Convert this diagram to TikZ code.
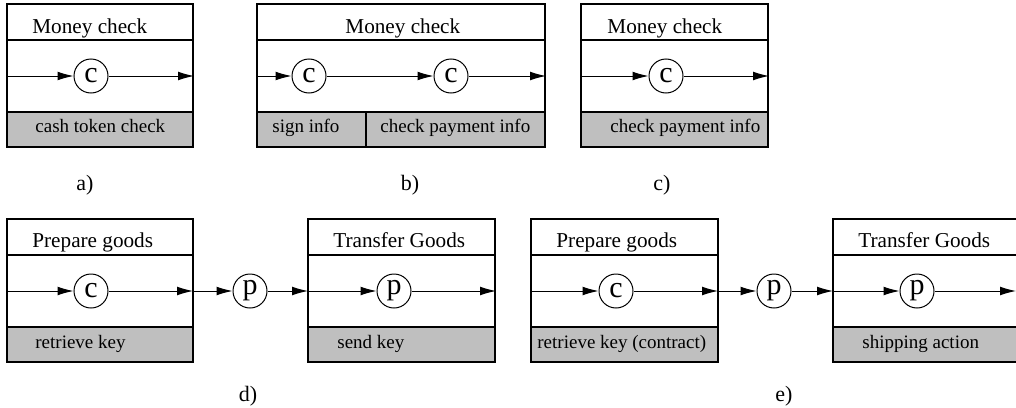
\documentclass[tikz,border=0pt]{standalone}
\usepackage{fontspec}
\setmainfont{Liberation Serif}
\usetikzlibrary{arrows.meta}

\begin{document}
\begin{tikzpicture}[x=0.5pt, y=-0.5pt,
  flow/.style={-{Latex[length=8pt,width=4.4pt]}, line width=0.5pt},
  place/.style={circle, draw, line width=0.5pt, minimum size=17pt, inner sep=0pt, font=\fontsize{15}{15}\selectfont},
  band/.style={line width=0.6pt},
  action/.style={fill=black!25, line width=0.6pt},
  title/.style={anchor=base west, inner sep=0pt, font=\fontsize{10.6}{12}\selectfont},
  info/.style={anchor=base west, inner sep=0pt, font=\fontsize{9.5}{11}\selectfont},
  caption/.style={anchor=base, inner sep=0pt, font=\fontsize{11}{12}\selectfont}]

  \useasboundingbox (0,0) rectangle (1016,407);

  % Step boxes (left/right/top)
  \foreach \l/\r/\t in {7/193/4, 257/545/4, 581/768/4, 7/193/219, 308/495/219, 531/718/219, 833/1030/219} {
    \draw[action] (\l,\t+108) rectangle (\r,\t+143);
    \draw[band] (\l,\t) rectangle (\r,\t+143);
    \draw[band] (\l,\t+36) -- (\r,\t+36);
  }
  \draw[band] (366,112) -- (366,147);

  % Box a
  \node[title] (a-title) at (32,33) {Money check};
  \node[info] (a-info) at (35,132) {cash token check};
  \coordinate (a-in) at (7,76);
  \coordinate (a-out) at (194,76);
  \node[place] (a-c) at (91,76) {c};
  \draw[flow] (a-in) -- (a-c);
  \draw[flow] (a-c) -- (a-out);
  \node[caption] (a-lab) at (85,190) {a)};

  % Box b
  \node[title] (b-title) at (345,33) {Money check};
  \node[info] (b-sign) at (272,132) {sign info};
  \node[info] (b-info) at (380,132) {check payment info};
  \coordinate (b-in) at (257,76);
  \coordinate (b-out) at (546,76);
  \node[place] (b-c1) at (309,76) {c};
  \node[place] (b-c2) at (451,76) {c};
  \draw[flow] (b-in) -- (b-c1);
  \draw[flow] (b-c1) -- (b-c2);
  \draw[flow] (b-c2) -- (b-out);
  \node[caption] (b-lab) at (410,190) {b)};

  % Box c
  \node[title] (c-title) at (607,33) {Money check};
  \node[info] (c-info) at (610,132) {check payment info};
  \coordinate (c-in) at (581,76);
  \coordinate (c-out) at (769,76);
  \node[place] (c-c) at (666,76) {c};
  \draw[flow] (c-in) -- (c-c);
  \draw[flow] (c-c) -- (c-out);
  \node[caption] (c-lab) at (662,190) {c)};

  % Row d
  \node[title] (d1-title) at (32,247) {Prepare goods};
  \node[info] (d1-info) at (35,348) {retrieve key};
  \node[title] (d2-title) at (333,247) {Transfer Goods};
  \node[info] (d2-info) at (337,348) {send key};
  \coordinate (d1-in) at (7,291);
  \coordinate (d1-out) at (193,291);
  \coordinate (d2-in) at (308,291);
  \coordinate (d2-out) at (496,291);
  \node[place] (d1-c) at (91,291) {c};
  \node[place] (d-p) at (250,291) {p};
  \node[place] (d2-p) at (394,291) {p};
  \draw[flow] (d1-in) -- (d1-c);
  \draw[flow] (d1-c) -- (d1-out);
  \draw[flow] (d1-out) -- (d-p);
  \draw[flow] (d-p) -- (d2-in);
  \draw[flow] (d2-in) -- (d2-p);
  \draw[flow] (d2-p) -- (d2-out);
  \node[caption] (d-lab) at (248,401) {d)};

  % Row e
  \node[title] (e1-title) at (556,247) {Prepare goods};
  \node[info] (e1-info) at (537,348) {retrieve key (contract)};
  \node[title] (e2-title) at (858,247) {Transfer Goods};
  \node[info] (e2-info) at (862,348) {shipping action};
  \coordinate (e1-in) at (531,291);
  \coordinate (e1-out) at (718,291);
  \coordinate (e2-in) at (833,291);
  \coordinate (e2-out) at (1016,291);
  \node[place] (e1-c) at (616,291) {c};
  \node[place] (e-p) at (774,291) {p};
  \node[place] (e2-p) at (917,291) {p};
  \draw[flow] (e1-in) -- (e1-c);
  \draw[flow] (e1-c) -- (e1-out);
  \draw[flow] (e1-out) -- (e-p);
  \draw[flow] (e-p) -- (e2-in);
  \draw[flow] (e2-in) -- (e2-p);
  \draw[flow] (e2-p) -- (e2-out);
  \node[caption] (e-lab) at (784,401) {e)};

\end{tikzpicture}
\end{document}
